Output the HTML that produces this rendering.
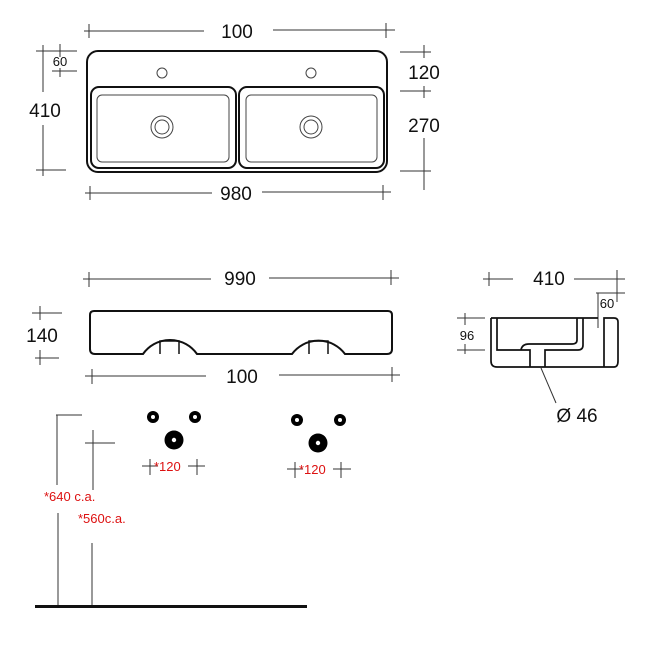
<!DOCTYPE html><html><head><style>body{margin:0;background:#fff}svg{display:block}text{font-family:"Liberation Sans",sans-serif}</style></head><body>
<svg width="646" height="645" viewBox="0 0 646 645" xmlns="http://www.w3.org/2000/svg">
<g fill="none" stroke="#111" stroke-width="2">
<rect x="87" y="51" width="300" height="121" rx="11"/>
<rect x="91" y="87" width="145" height="81" rx="8"/>
<rect x="239" y="87" width="145" height="81" rx="8"/>
</g>
<g fill="none" stroke="#444" stroke-width="1">
<rect x="97" y="95" width="132" height="67" rx="5"/>
<rect x="246" y="95" width="131" height="67" rx="5"/>
<circle cx="162" cy="127" r="11"/><circle cx="162" cy="127" r="7"/>
<circle cx="311" cy="127" r="11"/><circle cx="311" cy="127" r="7"/>
<circle cx="162" cy="73" r="5"/><circle cx="311" cy="73" r="5"/>
</g>
<g stroke="#333" stroke-width="1" fill="none">
<path d="M84 31H204M273 30H395M89 24V38M386 23V38"/>
<path d="M36 51H77M52 71H77M60 44V57M60 68V77"/>
<path d="M43 45V92M43 125V176M36 170H66"/>
<path d="M400 52H431M400 91H431M400 171H431M424 45V58M424 86V98M424 138V190"/>
<path d="M85 193H212M262 192H391M90 186V200M383 185V200"/>
<path d="M83 279H211M269 278H399M89 272V287M391 270V285"/>
<path d="M32 313H62M35 358H59M40 306V320M40 350V365"/>
<path d="M85 376H206M279 375H400M92 369V384M392 367V382"/>
<path d="M483 279H513M574 279H625M489 272V286M617 270V302M596 293H625M598 293V328"/>
<path d="M457 318H485M457 350H485M465 313V325M465 344V354"/>
<path d="M541 368L556 403"/>
<path d="M56 415H82M57 415V485M58 513V607M85 443H115M93 430V490M92 543V607"/>
<path d="M142 466H158M150 459V475M188 466H205M197 459V475"/>
<path d="M287 469H303M295 462V478M333 469H351M341 462V478"/>
</g>
<path d="M90 315Q90 311 94 311H388Q392 311 392 315V349Q392 354 387 354H345A33 33 0 0 0 292 354H197A33 33 0 0 0 143 354H95Q90 354 90 349Z" fill="none" stroke="#111" stroke-width="2"/>
<path d="M160 354V341H179V354M309 354V341H328V354" fill="none" stroke="#111" stroke-width="1.5"/>
<g fill="none" stroke="#111" stroke-width="1.7">
<path d="M491 318V361Q491 367 497 367H614Q618 367 618 361V322Q618 318 614 318H604V367"/>
<path d="M491 318H598M583 318V345Q583 350 578 350H545V367M497 318V350H530V367"/>
<path d="M577 318V340Q577 344 572 344H529Q522 344 521 350"/>
</g>
<g fill="#000">
<circle cx="153" cy="417" r="6"/><circle cx="195" cy="417" r="6"/><circle cx="174" cy="440" r="9.5"/>
<circle cx="297" cy="420" r="6"/><circle cx="340" cy="420" r="6"/><circle cx="318" cy="443" r="9.5"/>
</g>
<g fill="#fff"><circle cx="153" cy="417" r="2"/><circle cx="195" cy="417" r="2"/><circle cx="174" cy="440" r="2.2"/><circle cx="297" cy="420" r="2"/><circle cx="340" cy="420" r="2"/><circle cx="318" cy="443" r="2.2"/></g>
<rect x="35" y="605" width="272" height="3" fill="#111"/>
<g fill="#111" font-size="19" text-anchor="middle">
<text x="237" y="38">100</text><text x="45" y="117">410</text><text x="424" y="79">120</text><text x="424" y="132">270</text>
<text x="236" y="200">980</text><text x="240" y="285">990</text><text x="42" y="342">140</text><text x="242" y="383">100</text>
<text x="549" y="285">410</text><text x="577" y="422">Ø 46</text>
</g>
<g fill="#111" font-size="13" text-anchor="middle"><text x="60" y="66">60</text><text x="607" y="308">60</text><text x="467" y="340">96</text></g>
<g fill="#d11" font-size="13"><text x="154" y="471">*120</text><text x="299" y="474">*120</text><text x="44" y="501">*640 c.a.</text><text x="78" y="523">*560c.a.</text></g>
</svg></body></html>
